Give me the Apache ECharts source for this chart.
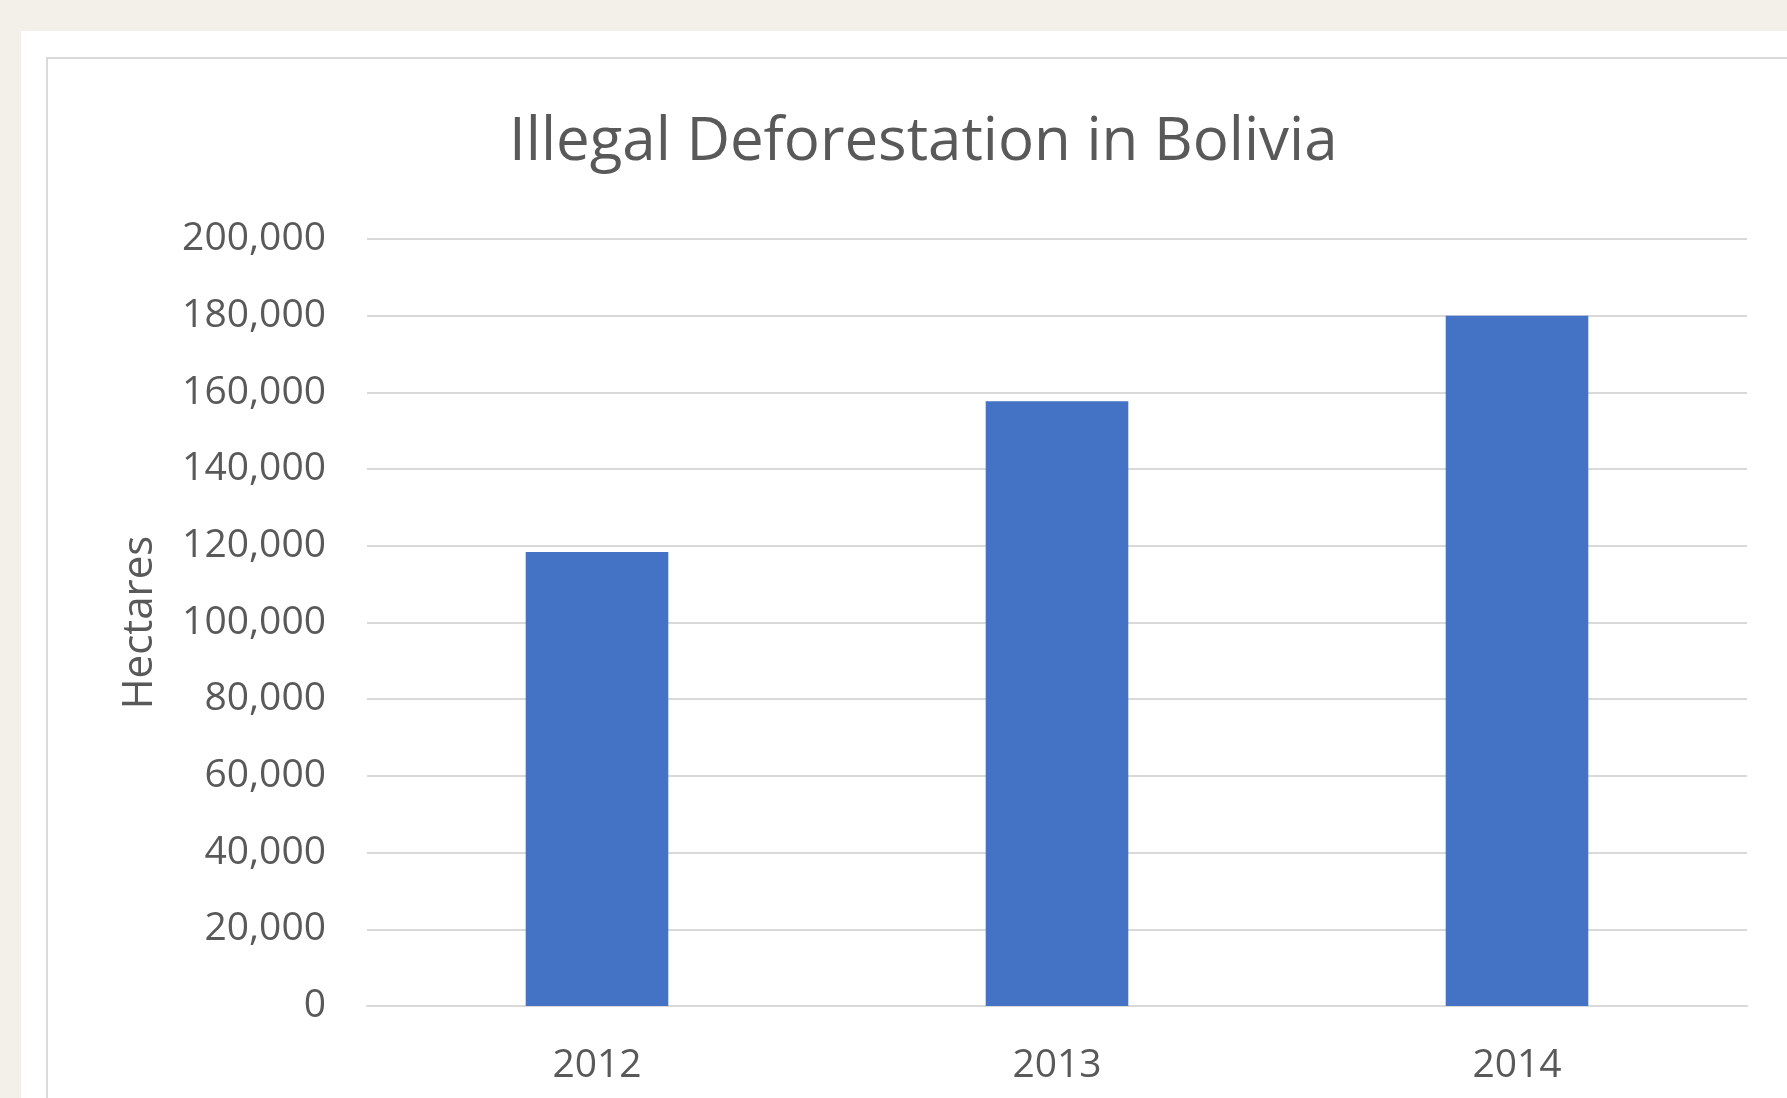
<!DOCTYPE html>
<html>
<head>
<meta charset="utf-8">
<title>Illegal Deforestation in Bolivia</title>
<script src="https://cdn.jsdelivr.net/npm/echarts@6/dist/echarts.min.js"></script>
<style>
  html, body { margin: 0; padding: 0; width: 1787px; height: 1098px; overflow: hidden; background: #f3f0e9; }
  .panel { position: absolute; left: 21px; top: 31px; right: 0; bottom: 0; background: #fff; }
  .frame { position: absolute; left: 46px; top: 57px; right: -10px; bottom: -10px; border: 2px solid #dadada; }
  #chart { position: absolute; left: 0; top: 0; width: 1787px; height: 1098px; }
</style>
</head>
<body>
<div class="panel"></div>
<div class="frame"></div>
<div id="chart"></div>
<script>
// data
const years = ["2012", "2013", "2014"];
const hectares = [118400, 157700, 180000];

const textColor = "#595959";
const gridColor = "#d9d9d9";

let mychart = echarts.init(document.getElementById("chart"));
let option = {
  backgroundColor: "transparent",
  animation: false,
  title: {
    text: "Illegal Deforestation in Bolivia",
    left: 504,
    top: 108,
    textStyle: {
      color: textColor,
      fontFamily: "Open Sans",
      fontWeight: "normal",
      fontSize: 60,
    },
  },
  grid: {
    left: 367,
    right: 40,
    top: 239,
    bottom: 92,
  },
  xAxis: {
    type: "category",
    data: years,
    axisLine: { show: true, lineStyle: { color: gridColor, width: 2 } },
    axisTick: { show: false },
    axisLabel: {
      color: textColor,
      fontFamily: "Open Sans",
      fontSize: 39,
      margin: 40,
    },
  },
  yAxis: {
    type: "value",
    min: 0,
    max: 200000,
    interval: 20000,
    name: "Hectares",
    nameLocation: "middle",
    nameGap: 206,
    nameTextStyle: {
      color: textColor,
      fontFamily: "Open Sans",
      fontSize: 42,
    },
    axisLine: { show: false },
    axisTick: { show: false },
    axisLabel: {
      color: textColor,
      fontFamily: "Open Sans",
      fontSize: 39,
      margin: 41,
      padding: [4, 0, 0, 0],
      formatter: (v) => v.toLocaleString("en-US"),
    },
    splitLine: { lineStyle: { color: gridColor, width: 2 } },
  },
  series: [
    {
      type: "bar",
      data: hectares,
      barWidth: "31%",
      itemStyle: { color: "#4472c4" },
    },
  ],
};
mychart.setOption(option);
</script>
</body>
</html>
